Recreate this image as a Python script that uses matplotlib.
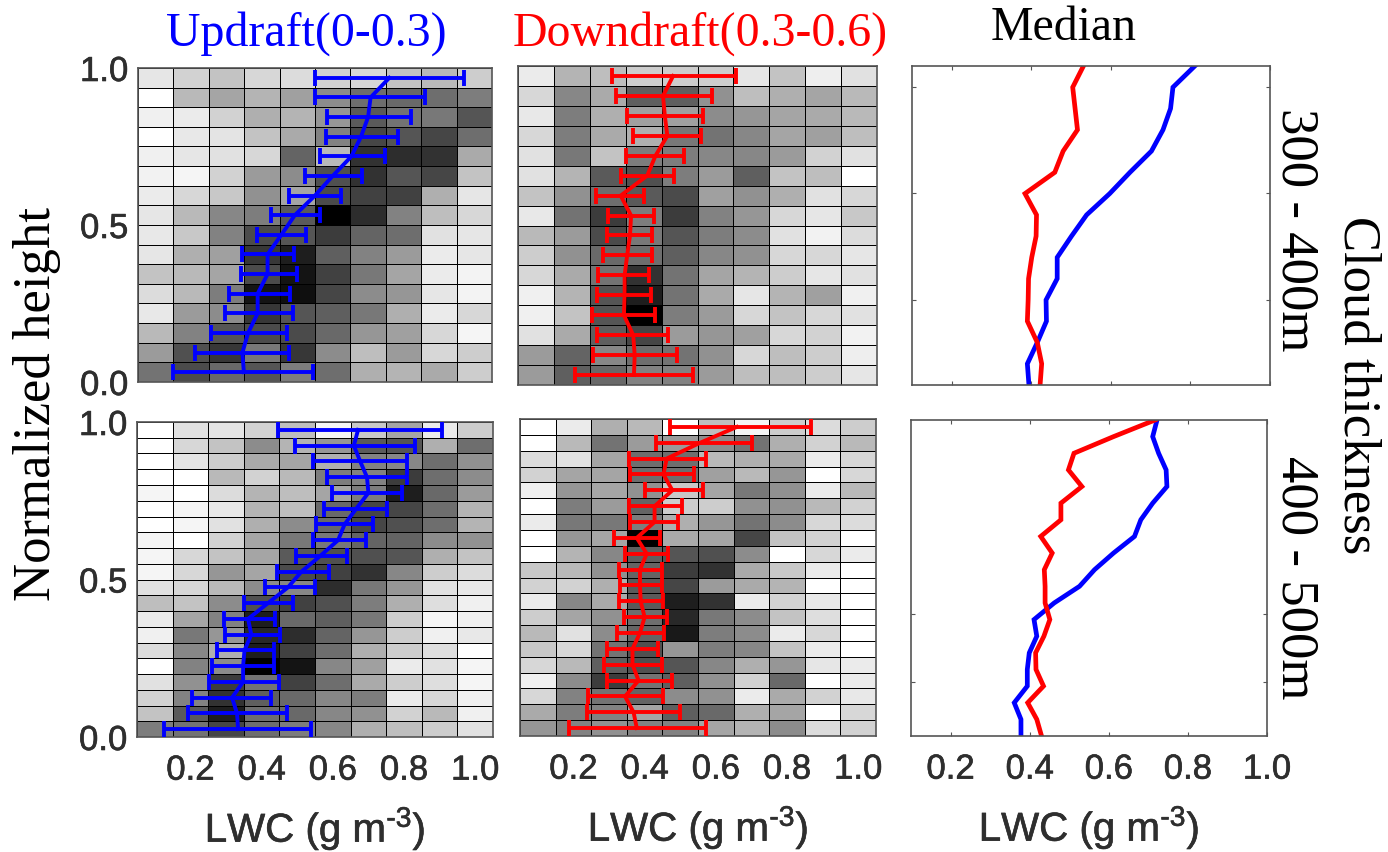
import numpy as np
import matplotlib
matplotlib.use("Agg")
import matplotlib.pyplot as plt
import matplotlib.patheffects as pe

plt.rcParams['font.family'] = ['Liberation Sans', 'DejaVu Sans']
plt.rcParams['mathtext.fontset'] = 'custom'
plt.rcParams['mathtext.rm'] = 'Liberation Sans'
plt.rcParams['mathtext.it'] = 'Liberation Sans'
plt.rcParams['mathtext.bf'] = 'Liberation Sans'

# grey level of each cell (0 black - 255 white), top row first
gray_up_300 = [
    [230, 210, 195, 215, 220, 210, 215, 195, 185, 205],
    [255, 185, 165, 180, 160, 140, 110, 105, 110, 125],
    [240, 235, 210, 175, 180, 150, 90, 115, 120, 85],
    [255, 232, 228, 195, 170, 130, 70, 85, 70, 110],
    [240, 230, 225, 215, 100, 185, 50, 45, 50, 170],
    [242, 245, 210, 155, 140, 80, 50, 85, 70, 195],
    [235, 215, 200, 145, 165, 75, 65, 65, 175, 230],
    [230, 185, 135, 125, 90, 0, 45, 130, 190, 215],
    [232, 200, 130, 75, 85, 60, 100, 110, 225, 230],
    [230, 175, 160, 55, 30, 95, 130, 155, 235, 230],
    [195, 185, 165, 75, 20, 65, 120, 165, 235, 243],
    [220, 185, 125, 20, 15, 70, 140, 150, 230, 243],
    [232, 155, 140, 55, 85, 95, 120, 175, 235, 215],
    [185, 130, 85, 75, 75, 105, 150, 160, 215, 245],
    [155, 80, 55, 120, 55, 140, 190, 155, 215, 205],
    [115, 75, 105, 85, 125, 110, 175, 180, 170, 205],
]
gray_down_300 = [
    [235, 180, 190, 205, 205, 205, 230, 195, 238, 225],
    [215, 135, 170, 95, 95, 145, 190, 175, 165, 185],
    [232, 125, 175, 160, 160, 140, 150, 165, 170, 185],
    [215, 125, 170, 175, 120, 115, 135, 165, 160, 190],
    [225, 120, 195, 125, 125, 135, 135, 155, 210, 225],
    [225, 180, 90, 80, 125, 155, 95, 195, 190, 255],
    [195, 145, 110, 90, 75, 160, 145, 175, 225, 215],
    [232, 115, 60, 125, 60, 130, 150, 215, 230, 200],
    [185, 155, 75, 120, 85, 125, 140, 225, 242, 220],
    [205, 145, 105, 110, 95, 135, 145, 215, 215, 230],
    [215, 170, 115, 50, 115, 165, 180, 205, 230, 225],
    [240, 180, 85, 30, 115, 170, 230, 180, 160, 240],
    [240, 195, 85, 0, 125, 155, 215, 195, 215, 225],
    [225, 170, 95, 70, 155, 150, 160, 215, 210, 242],
    [155, 100, 135, 110, 115, 145, 215, 190, 205, 238],
    [155, 95, 105, 130, 130, 155, 190, 190, 205, 230],
]
gray_up_400 = [
    [255, 225, 228, 210, 190, 245, 200, 165, 235, 205],
    [255, 215, 195, 140, 180, 150, 90, 85, 175, 110],
    [255, 228, 205, 170, 165, 175, 130, 135, 110, 145],
    [255, 255, 185, 210, 185, 125, 130, 60, 110, 140],
    [245, 255, 220, 180, 190, 165, 125, 30, 105, 155],
    [255, 245, 232, 180, 190, 105, 70, 70, 110, 180],
    [255, 245, 225, 175, 140, 105, 70, 80, 110, 180],
    [245, 255, 210, 165, 120, 120, 100, 100, 140, 145],
    [245, 215, 195, 165, 90, 80, 80, 85, 175, 195],
    [245, 215, 150, 165, 75, 65, 50, 135, 205, 220],
    [225, 215, 185, 140, 135, 45, 120, 150, 225, 232],
    [190, 195, 140, 80, 65, 80, 125, 175, 222, 240],
    [235, 165, 130, 30, 105, 95, 120, 205, 245, 240],
    [240, 120, 150, 40, 45, 100, 150, 205, 240, 232],
    [220, 135, 175, 30, 65, 110, 175, 205, 222, 255],
    [255, 130, 140, 0, 20, 135, 160, 235, 225, 245],
    [225, 145, 60, 115, 65, 110, 170, 205, 222, 245],
    [210, 130, 50, 95, 105, 135, 125, 235, 215, 240],
    [195, 90, 30, 110, 105, 135, 145, 210, 185, 240],
    [125, 115, 70, 110, 125, 135, 175, 190, 205, 225],
]
gray_down_400 = [
    [255, 235, 175, 185, 255, 190, 245, 205, 220, 205],
    [255, 185, 115, 155, 155, 140, 115, 175, 210, 185],
    [220, 225, 165, 110, 110, 185, 175, 170, 235, 215],
    [210, 165, 165, 110, 110, 160, 185, 150, 255, 215],
    [240, 150, 165, 145, 200, 165, 120, 145, 235, 185],
    [255, 125, 155, 100, 205, 205, 145, 145, 185, 210],
    [235, 120, 120, 125, 175, 150, 115, 140, 215, 220],
    [255, 150, 165, 0, 170, 165, 70, 195, 210, 255],
    [255, 180, 135, 95, 85, 80, 140, 255, 215, 235],
    [200, 185, 145, 100, 60, 50, 170, 200, 235, 255],
    [210, 210, 175, 90, 70, 155, 170, 180, 255, 255],
    [235, 135, 170, 90, 30, 50, 235, 210, 232, 255],
    [205, 165, 145, 110, 40, 120, 140, 195, 222, 255],
    [185, 225, 140, 100, 25, 125, 140, 235, 215, 255],
    [200, 215, 115, 80, 150, 125, 135, 195, 235, 255],
    [215, 185, 95, 80, 85, 135, 175, 150, 230, 235],
    [240, 140, 60, 115, 95, 145, 210, 105, 255, 235],
    [215, 130, 115, 100, 140, 145, 235, 170, 210, 232],
    [170, 125, 130, 165, 95, 105, 175, 165, 255, 215],
    [150, 130, 145, 130, 130, 165, 180, 140, 220, 210],
]

# LWC per level: low end of bar, middle, high end, top level first
up_300_lo = [.55, .55, .583, .58, .565, .521, .476, .425, .387, .344, .341, .307, .296, .256, .21, .148]
up_300_mid = [.76, .707, .70, .68, .653, .60, .55, .493, .455, .416, .416, .388, .388, .361, .345, .349]
up_300_hi = [.97, .86, .82, .785, .747, .683, .623, .564, .524, .49, .498, .479, .488, .472, .476, .545]

down_300_lo = [.313, .324, .354, .371, .35, .336, .266, .301, .297, .287, .273, .271, .257, .271, .26, .208]
down_300_mid = [.482, .454, .459, .466, .433, .41, .336, .365, .362, .354, .347, .347, .345, .371, .375, .373]
down_300_hi = [.656, .589, .566, .561, .512, .484, .402, .43, .424, .424, .416, .42, .431, .467, .492, .537]

up_400_lo = [.446, .495, .543, .584, .598, .574, .554, .544, .498, .444, .409, .35, .293, .298, .276, .262, .252, .204, .193, .126]
up_400_mid = [.671, .659, .677, .696, .70, .666, .633, .615, .565, .512, .474, .418, .362, .371, .352, .348, .348, .317, .331, .334]
up_400_hi = [.907, .83, .808, .808, .795, .752, .713, .692, .64, .588, .549, .488, .437, .451, .435, .435, .448, .427, .471, .538]

down_400_lo = [.472, .432, .357, .359, .401, .357, .359, .314, .345, .329, .331, .329, .341, .322, .294, .287, .294, .242, .239, .189]
down_400_mid = [.659, .556, .462, .453, .478, .428, .428, .378, .406, .387, .387, .389, .40, .387, .366, .366, .383, .345, .369, .378]
down_400_hi = [.867, .703, .572, .54, .563, .506, .495, .442, .467, .448, .448, .451, .464, .455, .439, .448, .476, .451, .50, .572]

# median curves, top level first
med_up_300 = [.811, .756, .75, .731, .702, .648, .597, .539, .501, .465, .465, .437, .438, .415, .39, .394]
med_down_300 = [.531, .504, .51, .516, .48, .459, .384, .413, .412, .401, .393, .392, .39, .415, .426, .422]
med_up_400 = [.722, .711, .726, .745, .747, .711, .681, .665, .612, .564, .526, .462, .411, .418, .399, .394, .394, .361, .378, .378]
med_down_400 = [.717, .612, .512, .498, .532, .479, .479, .428, .457, .437, .439, .439, .451, .436, .415, .416, .435, .395, .418, .43]

x_ticks = [0.2, 0.4, 0.6, 0.8, 1.0]
y_ticks = [0.0, 0.5, 1.0]
W, H = 1388, 852
TICK_COL = "#2e2e2e"
# ticks and axis labels look a little heavier than the regular face
heavy = [pe.withStroke(linewidth=0.45, foreground=TICK_COL)]


def px_axes(left, top, right, bottom):
    return fig.add_axes([left / W, 1 - bottom / H, (right - left) / W, (bottom - top) / H])


def heat_panel(box, gray, lo, mid, hi, col, show_y, show_x):
    ax = px_axes(*box)
    gray = np.array(gray)[::-1]
    xe = np.linspace(0.05, 1.05, gray.shape[1] + 1)
    ye = np.linspace(0, 1, gray.shape[0] + 1)
    ax.pcolormesh(xe, ye, gray, cmap="gray", vmin=0, vmax=255, edgecolors="black", linewidth=0.55)
    y = (ye[:-1] + ye[1:])[::-1] / 2
    lo, mid, hi = np.array(lo), np.array(mid), np.array(hi)
    ax.errorbar(mid, y, xerr=[mid - lo, hi - mid], color=col, lw=2.8, elinewidth=2.8,
                capsize=6, capthick=2.8, clip_on=False, zorder=5)
    ax.set_xlim(0.05, 1.05)
    ax.set_ylim(0, 1)
    style_axes(ax, show_y, show_x)
    ax.tick_params(length=0)
    for s in ax.spines.values():
        s.set_color("#555555")
        s.set_linewidth(1.2)
    return ax


def median_panel(box, up, down, ticks, show_x):
    ax = px_axes(*box)
    ax.plot(up, np.linspace(1, 0, len(up)), color="#0000ff", lw=3.4, solid_joinstyle="miter")
    ax.plot(down, np.linspace(1, 0, len(down)), color="#ff0000", lw=3.4, solid_joinstyle="miter")
    ax.set_xlim(0.1, 1.0)
    ax.set_ylim(0, 1)
    style_axes(ax, False, show_x)
    ax.set_yticks(ticks)
    ax.tick_params(direction="in", length=3, width=0.8, top=True, right=True, color="#555555")
    ax.tick_params(axis="y", labelleft=False)
    for s in ax.spines.values():
        s.set_color("#555555")
        s.set_linewidth(1.2)
    return ax


def style_axes(ax, show_y, show_x):
    ax.set_xticks(x_ticks)
    ax.set_yticks(y_ticks)
    ax.set_yticklabels(["0.0", "0.5", "1.0"] if show_y else [])
    ax.set_xticklabels(["0.2", "0.4", "0.6", "0.8", "1.0"] if show_x else [])
    ax.tick_params(axis="x", labelsize=25, labelcolor=TICK_COL, pad=12)
    ax.tick_params(axis="y", labelsize=25, labelcolor=TICK_COL, pad=7)
    for t in ax.get_xticklabels() + ax.get_yticklabels():
        t.set_path_effects(heavy)
    if show_x:
        ax.set_xlabel("LWC (g m$^{\\text{-3}}$)", fontsize=29, color=TICK_COL, labelpad=13, path_effects=heavy)


fig = plt.figure(figsize=(W / 100, H / 100), dpi=100)

heat_panel((138, 68, 492, 382), gray_up_300, up_300_lo, up_300_mid, up_300_hi, "#0000ff", True, False)
heat_panel((518, 66, 877, 385), gray_down_300, down_300_lo, down_300_mid, down_300_hi, "#ff0000", False, False)
median_panel((912, 66, 1270, 385), med_up_300, med_down_300, [0.267, 0.602, 0.935], False)
heat_panel((137, 422, 493, 737), gray_up_400, up_400_lo, up_400_mid, up_400_hi, "#0000ff", True, True)
heat_panel((520, 419, 876, 736), gray_down_400, down_400_lo, down_400_mid, down_400_hi, "#ff0000", False, True)
median_panel((911, 420, 1267, 736), med_up_400, med_down_400, [0.172, 0.385], True)

serif = {"family": ["Liberation Serif", "DejaVu Serif"], "ha": "center", "va": "center"}
fig.text(306 / W, 1 - 34 / H, "Updraft(0-0.3)", color="#0000ff", fontsize=34.5, **serif)
fig.text(700 / W, 1 - 34 / H, "Downdraft(0.3-0.6)", color="#ff0000", fontsize=34.5, **serif)
fig.text(1064 / W, 1 - 28 / H, "Median", color="black", fontsize=34.5, **serif)
fig.text(37 / W, 1 - 404 / H, "Normalized height", color="black", fontsize=38, rotation=90, **serif)
fig.text(1296 / W, 1 - 230 / H, "300 - 400m", color="black", fontsize=38, rotation=270, **serif)
fig.text(1296 / W, 1 - 578 / H, "400 - 500m", color="black", fontsize=38, rotation=270, **serif)
fig.text(1357 / W, 1 - 385 / H, "Cloud thickness", color="black", fontsize=38, rotation=270, **serif)

fig.savefig("out.png", dpi=100)
plt.close(fig)
